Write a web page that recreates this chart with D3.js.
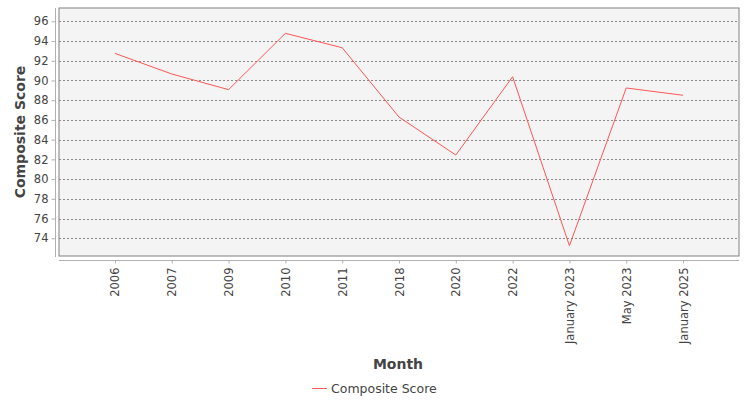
<!DOCTYPE html>
<html>
<head>
<meta charset="utf-8">
<script src="https://cdn.jsdelivr.net/npm/d3@7"></script>
<style>
  body { margin: 0; background: #fff; }
  text { font-family: "DejaVu Sans", sans-serif; }
</style>
</head>
<body>
<div id="chart"></div>
<script>
// data
let categories = ["2006", "2007", "2009", "2010", "2011", "2018", "2020", "2022",
  "January 2023", "May 2023", "January 2025"];
let scores = [92.75, 90.66, 89.07, 94.78, 93.32, 86.29, 82.44, 90.38, 73.24, 89.24, 88.5];
let yTicks = [74, 76, 78, 80, 82, 84, 86, 88, 90, 92, 94, 96];
let seriesName = "Composite Score";

let width = 750, height = 400;
let plot = {left: 59, right: 739, top: 8, bottom: 256};

let svg = d3.select("#chart").append("svg")
  .attr("width", width)
  .attr("height", height);

let x = d3.scalePoint()
  .domain(categories)
  .range([plot.left, plot.right])
  .padding(0.985);

let y = d3.scaleLinear()
  .domain([72.2, 97.35])
  .range([plot.bottom, plot.top]);

// plot background
svg.append("rect")
  .attr("x", plot.left)
  .attr("y", plot.top)
  .attr("width", plot.right - plot.left)
  .attr("height", plot.bottom - plot.top)
  .attr("fill", "#f4f4f4")
  .attr("stroke", "#808080")
  .attr("stroke-width", 1);

// grid lines
svg.append("g")
  .selectAll("line")
  .data(yTicks)
  .join("line")
  .attr("x1", plot.left)
  .attr("x2", plot.right)
  .attr("y1", d => Math.round(y(d)) + 0.5)
  .attr("y2", d => Math.round(y(d)) + 0.5)
  .attr("stroke", "#8a8a8a")
  .attr("stroke-width", 1)
  .attr("stroke-dasharray", "2,2");

// y axis
let yAxis = svg.append("g")
  .attr("transform", "translate(55.5,0)")
  .call(d3.axisLeft(y).tickValues(yTicks).tickSize(4).tickPadding(3));
yAxis.select(".domain")
  .attr("d", `M0,${plot.top}V${plot.bottom + 1}`)
  .attr("stroke", "#b0b0b0");
yAxis.selectAll(".tick line").attr("stroke", "#b0b0b0");
yAxis.selectAll(".tick text")
  .attr("fill", "#444")
  .style("font-size", "11.5px");

// x axis
let xAxis = svg.append("g")
  .attr("transform", "translate(0,260.5)")
  .call(d3.axisBottom(x).tickSize(3).tickPadding(3));
xAxis.select(".domain")
  .attr("d", `M${plot.left},0H${plot.right}`)
  .attr("stroke", "#b0b0b0");
xAxis.selectAll(".tick line").attr("stroke", "#b0b0b0");
xAxis.selectAll(".tick text")
  .attr("fill", "#444")
  .style("font-size", "11.5px")
  .attr("transform", "rotate(-90)")
  .attr("text-anchor", "end")
  .attr("x", -7)
  .attr("y", 0)
  .attr("dy", "0.35em");

// line
let line = d3.line()
  .x((d, i) => x(categories[i]))
  .y(d => y(d));

svg.append("path")
  .datum(scores)
  .attr("d", line)
  .attr("fill", "none")
  .attr("stroke", "#ff5555")
  .attr("stroke-width", 1);

// axis titles
svg.append("text")
  .attr("transform", `translate(25,${(plot.top + plot.bottom) / 2}) rotate(-90)`)
  .attr("text-anchor", "middle")
  .attr("fill", "#444")
  .style("font-size", "14px")
  .style("font-weight", "bold")
  .text("Composite Score");

svg.append("text")
  .attr("x", 398)
  .attr("y", 369)
  .attr("text-anchor", "middle")
  .attr("fill", "#444")
  .style("font-size", "14px")
  .style("font-weight", "bold")
  .text("Month");

// legend
let legend = svg.append("g").attr("transform", "translate(312,388)");
legend.append("line")
  .attr("x1", 0)
  .attr("x2", 15)
  .attr("y1", 0.5)
  .attr("y2", 0.5)
  .attr("stroke", "#ff5555")
  .attr("stroke-width", 1);
legend.append("text")
  .attr("x", 19)
  .attr("y", 4.5)
  .attr("fill", "#444")
  .style("font-size", "12.5px")
  .text(seriesName);
</script>
</body>
</html>
